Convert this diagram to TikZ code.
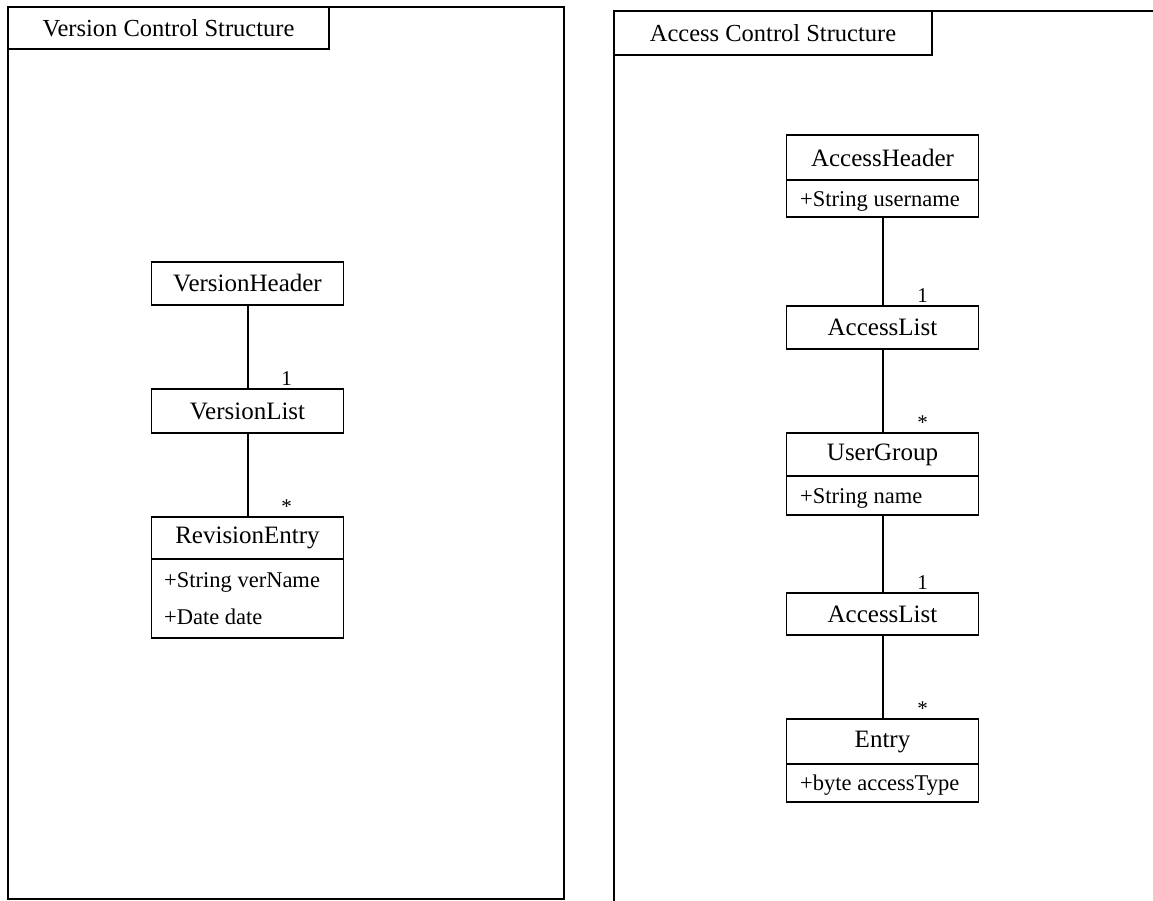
\documentclass[tikz,border=0pt]{standalone}
\usepackage{fontspec}
\setmainfont{Liberation Serif}
\begin{document}
\begin{tikzpicture}[x=1pt,y=-1pt,
  frame/.style={draw,line width=1.8pt},
  tab/.style={draw,line width=1.8pt,anchor=north west,inner sep=0pt,outer sep=0pt,
    font=\fontsize{24.5}{28}\selectfont},
  cls/.style={draw,line width=1.8pt,minimum width=192pt,inner sep=0pt,outer sep=0pt,
    font=\fontsize{25}{29}\selectfont},
  comp/.style={draw,line width=1.8pt,minimum width=192pt,inner sep=0pt,outer sep=0pt,
    anchor=north},
  attr/.style={anchor=west,inner sep=0pt,font=\fontsize{22.5}{26}\selectfont},
  mult/.style={anchor=base,inner sep=0pt,font=\fontsize{21}{24}\selectfont},
  link/.style={line width=2pt}]
\useasboundingbox (0,0) rectangle (1153,900);

% ---- version control package
\draw[frame] (8,7) rectangle (564,899);
\node[tab,minimum width=321pt,minimum height=42pt] (vtab) at (8,7) {Version Control Structure};

\node[cls,minimum height=43pt] (vh) at (247.5,283.5) {VersionHeader};
\node[cls,minimum height=44pt] (vl) at (247.5,411) {VersionList};
\node[cls,minimum height=42pt] (re) at (247.5,538) {RevisionEntry};
\node[comp,minimum height=79pt] (rea) at (re.south) {};
\node[attr] (rea1) at (164,582) {+String verName};
\node[attr] (rea2) at (164,617) {+Date date};

\draw[link] (vh.south) -- (vl.north)
  node[mult,at end,xshift=39pt,yshift=4pt] (m1) {1};
\draw[link] (vl.south) -- (re.north)
  node[mult,at end,xshift=39pt,yshift=4pt] (m2) {*};

% ---- access control package
\draw[frame] (1160,11) -- (614,11) -- (614,905);
\node[tab,minimum width=318pt,minimum height=44pt] (atab) at (614,11) {Access Control Structure};

\node[cls,minimum height=45pt] (ah) at (882.5,157.5) {AccessHeader};
\node[comp,minimum height=37pt] (aha) at (ah.south) {};
\node[attr] (aha1) at (800,201) {+String username};

\node[cls,minimum height=43pt] (al1) at (882.5,327.5) {AccessList};

\node[cls,minimum height=43pt] (ug) at (882.5,454.5) {UserGroup};
\node[comp,minimum height=39pt] (uga) at (ug.south) {};
\node[attr] (uga1) at (800,498) {+String name};

\node[cls,minimum height=42pt] (al2) at (882.5,614) {AccessList};

\node[cls,minimum height=45pt] (en) at (882.5,741.5) {Entry};
\node[comp,minimum height=38pt] (ena) at (en.south) {};
\node[attr] (ena1) at (800,785) {+byte accessType};

\draw[link] (aha.south) -- (al1.north)
  node[mult,at end,xshift=40pt,yshift=4pt] (m3) {1};
\draw[link] (al1.south) -- (ug.north)
  node[mult,at end,xshift=40pt,yshift=4pt] (m4) {*};
\draw[link] (uga.south) -- (al2.north)
  node[mult,at end,xshift=40pt,yshift=4pt] (m5) {1};
\draw[link] (al2.south) -- (en.north)
  node[mult,at end,xshift=40pt,yshift=4pt] (m6) {*};
\end{tikzpicture}
\end{document}
